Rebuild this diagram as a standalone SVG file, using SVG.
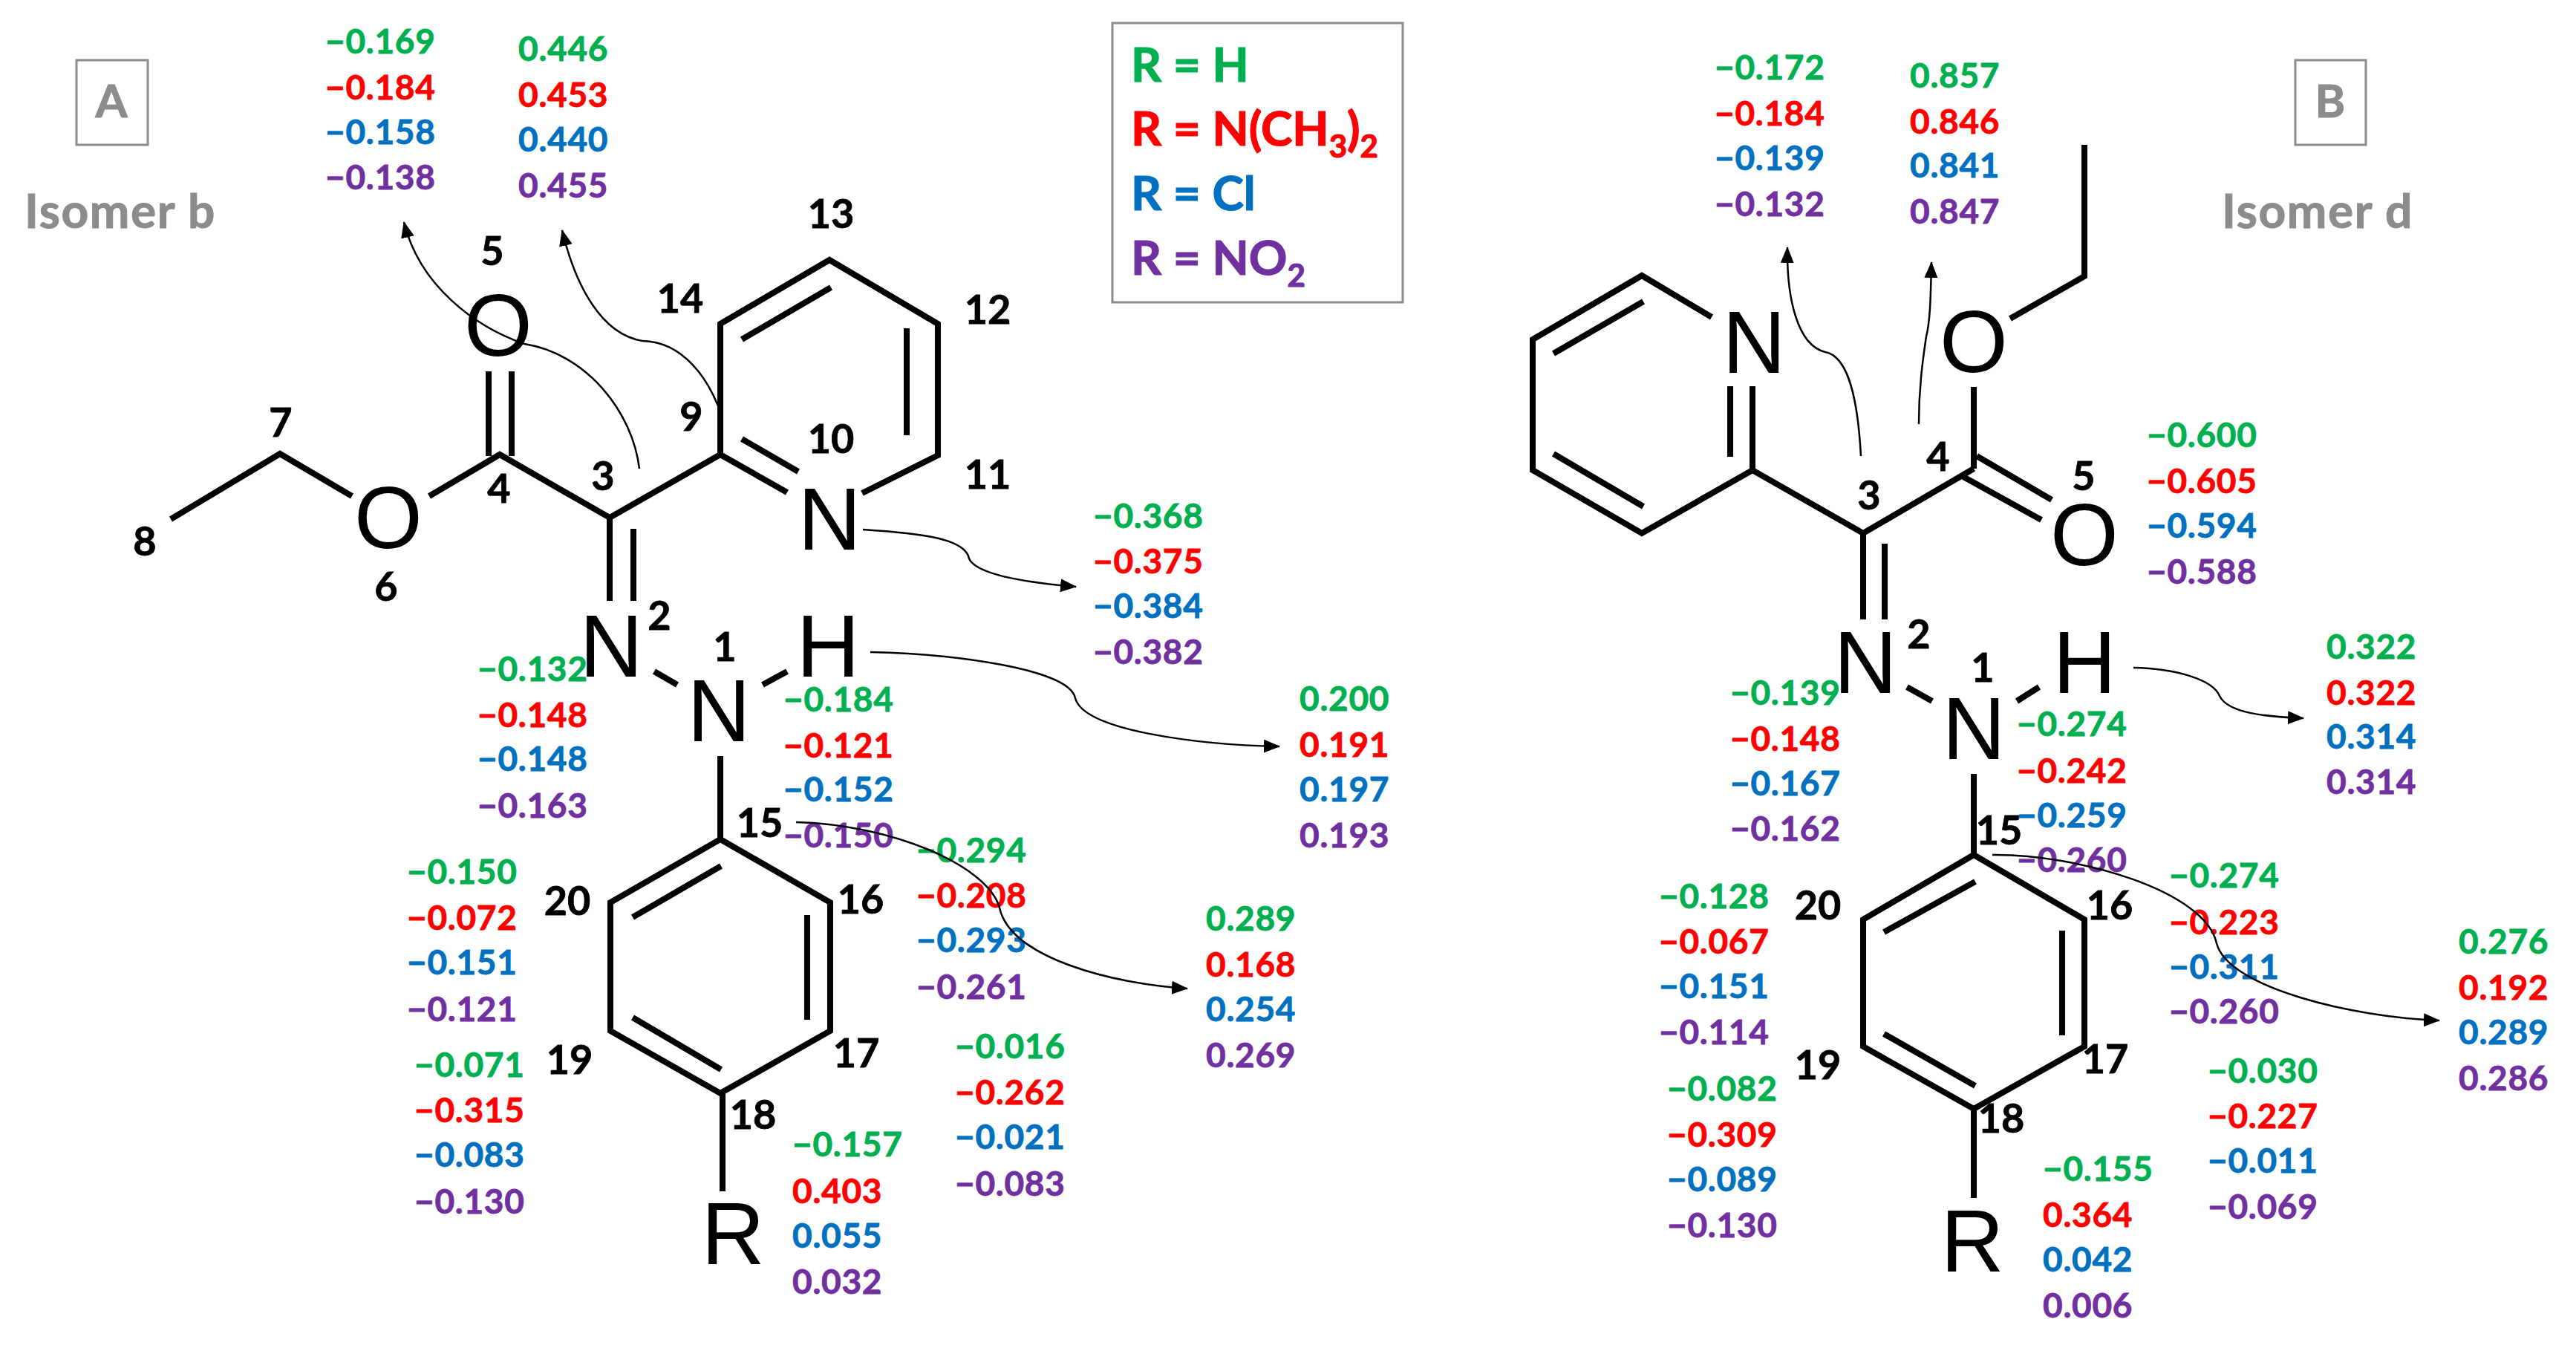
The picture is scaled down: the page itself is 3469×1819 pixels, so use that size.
<svg xmlns="http://www.w3.org/2000/svg" width="3469" height="1819" viewBox="0 0 3469 1819">
<style>
.bg{fill:#fff}
.bond{fill:none;stroke:#000;stroke-width:8;stroke-linejoin:miter}
.atom{font-family:"Liberation Sans",Arial,sans-serif;font-size:118px;fill:#000;text-anchor:middle}
.num{font-family:Lato,"Open Sans",sans-serif;font-weight:700;font-size:54px;fill:#000;stroke:#000;stroke-width:.8;text-anchor:middle}
.v{font-family:Lato,"Open Sans",sans-serif;font-weight:700;font-size:46px;letter-spacing:.7px;stroke-width:.8}
.g{fill:#00B050;stroke:#00B050}.r{fill:#FF0000;stroke:#FF0000}.b{fill:#0070C0;stroke:#0070C0}.p{fill:#7030A0;stroke:#7030A0}
.leg{font-family:Lato,"Open Sans",sans-serif;font-weight:700;font-size:64px;stroke-width:1.2}
.sub{font-size:42px}
.box{fill:none;stroke:#8c8c8c;stroke-width:3}
.title{font-family:Lato,"Open Sans",sans-serif;font-weight:700;fill:#8c8c8c;stroke:#8c8c8c;stroke-width:1}
.arrow{fill:none;stroke:#000;stroke-width:2.5;marker-end:url(#ah)}
</style>
<defs>
<marker id="ah" markerUnits="userSpaceOnUse" markerWidth="24" markerHeight="20" refX="21" refY="9" orient="auto"><path d="M0,0 L22,9 L0,18 Z" fill="#000"/></marker>
</defs>
<rect class="bg" width="3469" height="1819"/>

<g id="panel-A-label"><rect class="box" x="103" y="81" width="96" height="114"/><text class="title" x="150" y="158" font-size="62" text-anchor="middle">A</text><text class="title" x="33" y="307" font-size="64" letter-spacing="1.6">Isomer b</text></g>
<g id="panel-B-label"><rect class="box" x="3091" y="81" width="95" height="114"/><text class="title" x="3138" y="158" font-size="62" text-anchor="middle">B</text><text class="title" x="2992" y="307" font-size="64" letter-spacing="1.6">Isomer d</text></g>

<g id="legend"><rect class="box" x="1498" y="31" width="391" height="376"/>
<text class="leg g" x="1523" y="110">R = H</text>
<text class="leg r" x="1523" y="196">R = N(CH<tspan class="sub" dy="16">3</tspan><tspan dy="-16">)</tspan><tspan class="sub" dy="16">2</tspan></text>
<text class="leg b" x="1523" y="283">R = Cl</text>
<text class="leg p" x="1523" y="370">R = NO<tspan class="sub" dy="16">2</tspan></text></g>

<g id="bonds-A" class="bond">
<polyline points="230,699 377,611 474,668"/>
<polyline points="578,668 673,612 821,697 970,612"/>
<path d="M658,614V500M689,614V500"/>
<path d="M821,697V809M853,712V809"/>
<polyline points="970,612 970,436 1117,350 1263,436 1263,613 1161,664"/>
<path d="M970,612L1060,663M999,591L1075,635M999,457L1119,387M1221,442V586"/>
<path d="M881,904L912,922M1027,922L1060,904"/>
<path d="M970,1018V1130"/>
<polygon points="970,1130 1118,1215 1118,1388 970,1472 822,1388 822,1215"/>
<path d="M852,1235L971,1166M1087,1232V1373M852,1370L971,1440"/>
<path d="M973,1472V1604"/>
</g>
<g id="bonds-B" class="bond">
<polyline points="2305,427 2211,371 2064,457 2064,633 2211,718 2360,633 2509,718 2658,631"/>
<path d="M2092,476L2213,406M2092,611L2213,682"/>
<path d="M2330,520V615M2360,520V633"/>
<path d="M2509,718V834M2538,732V834"/>
<path d="M2658,631V521"/>
<polyline points="2707,429 2807,372 2807,195"/>
<path d="M2662,614L2763,673M2644,642L2749,700"/>
<path d="M2568,925L2602,944M2716,944L2746,925"/>
<path d="M2658,1042V1151"/>
<polygon points="2658,1151 2807,1238 2807,1409 2658,1493 2509,1409 2509,1238"/>
<path d="M2537,1255L2660,1187M2777,1253V1394M2537,1392L2660,1462"/>
<path d="M2658,1493V1613"/>
</g>

<g id="atoms-A">
<text id="a-O6" class="atom" x="523" y="738">O</text>
<text id="a-O5" class="atom" x="671" y="479">O</text>
<text id="a-N10" class="atom" x="1117" y="740">N</text>
<text id="a-N2" class="atom" x="823" y="911">N</text>
<text id="a-N1" class="atom" x="968" y="998">N</text>
<text id="a-H" class="atom" x="1115" y="911">H</text>
<text id="a-R" class="atom" x="987" y="1702">R</text>
</g>
<g id="atoms-B">
<text id="b-N10" class="atom" x="2362" y="502">N</text>
<text id="b-O6" class="atom" x="2658" y="501">O</text>
<text id="b-O5" class="atom" x="2807" y="761">O</text>
<text id="b-N2" class="atom" x="2512" y="933">N</text>
<text id="b-N1" class="atom" x="2658" y="1022">N</text>
<text id="b-H" class="atom" x="2807" y="933">H</text>
<text id="b-R" class="atom" x="2656" y="1712">R</text>
</g>

<g id="numbers-A">
<text class="num" x="976" y="890">1</text><text class="num" x="888" y="848">2</text><text class="num" x="812" y="660">3</text><text class="num" x="672" y="677">4</text><text class="num" x="663" y="357">5</text><text class="num" x="520" y="809">6</text><text class="num" x="378" y="588">7</text><text class="num" x="195" y="748">8</text><text class="num" x="931" y="580">9</text><text class="num" x="1119" y="610">10</text><text class="num" x="1330" y="658">11</text><text class="num" x="1330" y="436">12</text><text class="num" x="1119" y="307">13</text><text class="num" x="916" y="421">14</text><text class="num" x="1023" y="1127">15</text><text class="num" x="1159" y="1230">16</text><text class="num" x="1153" y="1437">17</text><text class="num" x="1014" y="1520">18</text><text class="num" x="767" y="1446">19</text><text class="num" x="764" y="1232">20</text>
</g>
<g id="numbers-B">
<text class="num" x="2670" y="918">1</text><text class="num" x="2584" y="873">2</text><text class="num" x="2517" y="686">3</text><text class="num" x="2610" y="634">4</text><text class="num" x="2806" y="660">5</text><text class="num" x="2692" y="1137">15</text><text class="num" x="2841" y="1238">16</text><text class="num" x="2835" y="1445">17</text><text class="num" x="2695" y="1525">18</text><text class="num" x="2448" y="1453">19</text><text class="num" x="2448" y="1238">20</text>
</g>

<g id="values-A" transform="translate(-2 0)">
<g id="A-C3"><text class="v g" x="440" y="72">−0.169</text><text class="v r" x="440" y="134">−0.184</text><text class="v b" x="440" y="194">−0.158</text><text class="v p" x="440" y="255">−0.138</text></g>
<g id="A-C9"><text class="v g" x="700" y="82">0.446</text><text class="v r" x="700" y="144">0.453</text><text class="v b" x="700" y="204">0.440</text><text class="v p" x="700" y="266">0.455</text></g>
<g id="A-N10"><text class="v g" x="1474" y="711">−0.368</text><text class="v r" x="1474" y="772">−0.375</text><text class="v b" x="1474" y="832">−0.384</text><text class="v p" x="1474" y="894">−0.382</text></g>
<g id="A-H"><text class="v g" x="1752" y="957">0.200</text><text class="v r" x="1752" y="1019">0.191</text><text class="v b" x="1752" y="1079">0.197</text><text class="v p" x="1752" y="1141">0.193</text></g>
<g id="A-N2"><text class="v g" x="645" y="917">−0.132</text><text class="v r" x="645" y="979">−0.148</text><text class="v b" x="645" y="1038">−0.148</text><text class="v p" x="645" y="1101">−0.163</text></g>
<g id="A-N1"><text class="v g" x="1057" y="958">−0.184</text><text class="v r" x="1057" y="1020">−0.121</text><text class="v b" x="1057" y="1079">−0.152</text><text class="v p" x="1057" y="1141">−0.150</text></g>
<g id="A-C20"><text class="v g" x="550" y="1190">−0.150</text><text class="v r" x="550" y="1252">−0.072</text><text class="v b" x="550" y="1312">−0.151</text><text class="v p" x="550" y="1375">−0.121</text></g>
<g id="A-C19"><text class="v g" x="560" y="1450">−0.071</text><text class="v r" x="560" y="1511">−0.315</text><text class="v b" x="560" y="1571">−0.083</text><text class="v p" x="560" y="1634">−0.130</text></g>
<g id="A-C16"><text class="v g" x="1236" y="1161">−0.294</text><text class="v r" x="1236" y="1222">−0.208</text><text class="v b" x="1236" y="1282">−0.293</text><text class="v p" x="1236" y="1345">−0.261</text></g>
<g id="A-C17"><text class="v g" x="1288" y="1425">−0.016</text><text class="v r" x="1288" y="1487">−0.262</text><text class="v b" x="1288" y="1547">−0.021</text><text class="v p" x="1288" y="1610">−0.083</text></g>
<g id="A-C18"><text class="v g" x="1069" y="1557">−0.157</text><text class="v r" x="1069" y="1620">0.403</text><text class="v b" x="1069" y="1680">0.055</text><text class="v p" x="1069" y="1742">0.032</text></g>
<g id="A-C15"><text class="v g" x="1626" y="1253">0.289</text><text class="v r" x="1626" y="1315">0.168</text><text class="v b" x="1626" y="1375">0.254</text><text class="v p" x="1626" y="1437">0.269</text></g>
</g>
<g id="values-B" transform="translate(-2 0)">
<g id="B-C3"><text class="v g" x="2311" y="107">−0.172</text><text class="v r" x="2311" y="169">−0.184</text><text class="v b" x="2311" y="229">−0.139</text><text class="v p" x="2311" y="291">−0.132</text></g>
<g id="B-C4"><text class="v g" x="2574" y="118">0.857</text><text class="v r" x="2574" y="180">0.846</text><text class="v b" x="2574" y="239">0.841</text><text class="v p" x="2574" y="301">0.847</text></g>
<g id="B-O5"><text class="v g" x="2893" y="602">−0.600</text><text class="v r" x="2893" y="664">−0.605</text><text class="v b" x="2893" y="724">−0.594</text><text class="v p" x="2893" y="786">−0.588</text></g>
<g id="B-H"><text class="v g" x="3135" y="887">0.322</text><text class="v r" x="3135" y="949">0.322</text><text class="v b" x="3135" y="1008">0.314</text><text class="v p" x="3135" y="1069">0.314</text></g>
<g id="B-N2"><text class="v g" x="2332" y="949">−0.139</text><text class="v r" x="2332" y="1011">−0.148</text><text class="v b" x="2332" y="1071">−0.167</text><text class="v p" x="2332" y="1132">−0.162</text></g>
<g id="B-N1"><text class="v g" x="2718" y="991">−0.274</text><text class="v r" x="2718" y="1054">−0.242</text><text class="v b" x="2718" y="1114">−0.259</text><text class="v p" x="2718" y="1174">−0.260</text></g>
<g id="B-C20"><text class="v g" x="2236" y="1223">−0.128</text><text class="v r" x="2236" y="1284">−0.067</text><text class="v b" x="2236" y="1344">−0.151</text><text class="v p" x="2236" y="1406">−0.114</text></g>
<g id="B-C19"><text class="v g" x="2247" y="1482">−0.082</text><text class="v r" x="2247" y="1544">−0.309</text><text class="v b" x="2247" y="1604">−0.089</text><text class="v p" x="2247" y="1666">−0.130</text></g>
<g id="B-C16"><text class="v g" x="2923" y="1195">−0.274</text><text class="v r" x="2923" y="1258">−0.223</text><text class="v b" x="2923" y="1318">−0.311</text><text class="v p" x="2923" y="1378">−0.260</text></g>
<g id="B-C17"><text class="v g" x="2975" y="1458">−0.030</text><text class="v r" x="2975" y="1519">−0.227</text><text class="v b" x="2975" y="1579">−0.011</text><text class="v p" x="2975" y="1641">−0.069</text></g>
<g id="B-C18"><text class="v g" x="2753" y="1590">−0.155</text><text class="v r" x="2753" y="1652">0.364</text><text class="v b" x="2753" y="1712">0.042</text><text class="v p" x="2753" y="1774">0.006</text></g>
<g id="B-C15"><text class="v g" x="3313" y="1284">0.276</text><text class="v r" x="3313" y="1346">0.192</text><text class="v b" x="3313" y="1406">0.289</text><text class="v p" x="3313" y="1468">0.286</text></g>
</g>

<g id="connectors">
<path class="arrow" d="M861,631C852,555 790,476 706,463C640,440 565,385 544,299"/>
<path class="arrow" d="M972,560C955,510 920,460 865,459C810,450 775,385 757,310"/>
<path class="arrow" d="M1162,713C1240,718 1300,725 1305,752C1315,775 1390,785 1449,790"/>
<path class="arrow" d="M1172,878C1280,880 1440,900 1448,940C1460,985 1620,1003 1723,1005"/>
<path class="arrow" d="M1072,1107C1200,1110 1330,1165 1346,1222C1360,1290 1500,1325 1599,1331"/>
<path class="arrow" d="M2506,614C2502,540 2490,480 2458,474C2420,465 2406,400 2407,333"/>
<path class="arrow" d="M2584,571C2584,520 2590,480 2594,453C2600,430 2600,390 2601,353"/>
<path class="arrow" d="M2873,899C2930,900 2980,915 2989,937C3000,960 3050,965 3102,967"/>
<path class="arrow" d="M2683,1151C2800,1150 2970,1200 2985,1270C3000,1330 3170,1370 3285,1374"/>
</g>
</svg>
